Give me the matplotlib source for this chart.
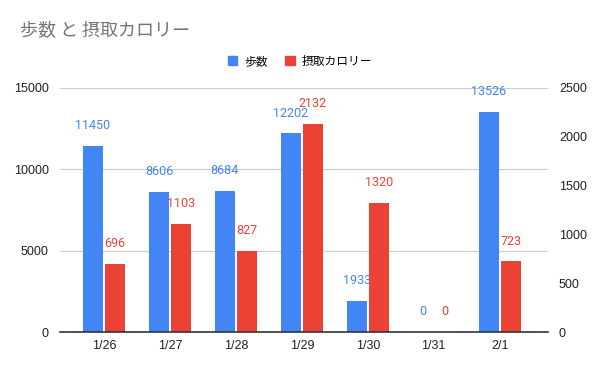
import numpy as np
import matplotlib
matplotlib.use('Agg')
import matplotlib.pyplot as plt
from matplotlib.patches import Patch

plt.rcParams['font.family'] = ['Liberation Sans', 'Noto Sans CJK JP']

dates = ['1/26', '1/27', '1/28', '1/29', '1/30', '1/31', '2/1']
steps = [11450, 8606, 8684, 12202, 1933, 0, 13526]
calories = [696, 1103, 827, 2132, 1320, 0, 723]

blue = '#4285f4'
red = '#ea4335'

fig = plt.figure(figsize=(6, 3.71), dpi=100)
ax = fig.add_axes([0.1, 0.105, 0.813, 0.658])
ax2 = ax.twinx()

x = np.arange(len(dates))
w = 0.30
off = 0.167
ax.bar(x - off, steps, w, color=blue, zorder=3)
ax2.bar(x + off, calories, w, color=red, zorder=3)

ax.set_ylim(0, 15000)
ax2.set_ylim(0, 2500)
ax.set_xlim(-0.667, 6.73)
ax.set_yticks([0, 5000, 10000, 15000])
ax2.set_yticks([0, 500, 1000, 1500, 2000, 2500])
ax.set_xticks(x)
ax.set_xticklabels(dates)

for a in (ax, ax2):
    for s in a.spines.values():
        s.set_visible(False)
    a.tick_params(length=0, labelsize=9, labelcolor='#222222')
ax.tick_params(axis='y', pad=8)
ax2.tick_params(axis='y', pad=8)
ax.tick_params(axis='x', pad=6)
ax.grid(axis='y', color='#cccccc', linewidth=0.8, zorder=0)
ax2.axhline(0, color='#333333', linewidth=1.2, zorder=5, clip_on=False)

for xi, v in zip(x, steps):
    ax.annotate(str(v), (xi - off, v), xytext=(0, 10), textcoords='offset points',
                ha='center', va='bottom', color=blue, fontsize=9, family='Roboto')
for xi, v in zip(x, calories):
    ax2.annotate(str(v), (xi + off, v), xytext=(0, 10), textcoords='offset points',
                 ha='center', va='bottom', color=red, fontsize=9, family='Roboto')

fig.text(0.033, 0.918, '歩数 と 摂取カロリー', fontsize=13, color='#757575', va='center',
         family=['Noto Sans CJK JP', 'DejaVu Sans'])

handles = [Patch(color=blue, label='歩数'), Patch(color=red, label='摂取カロリー')]
fig.legend(handles=handles, loc='center', bbox_to_anchor=(0.5, 0.835), ncol=2,
           frameon=False, prop={'family': ['Noto Sans CJK JP'], 'size': 8.5},
           handlelength=0.8, handleheight=0.8, columnspacing=1.5, handletextpad=0.6)

fig.savefig('out.png', dpi=100)
